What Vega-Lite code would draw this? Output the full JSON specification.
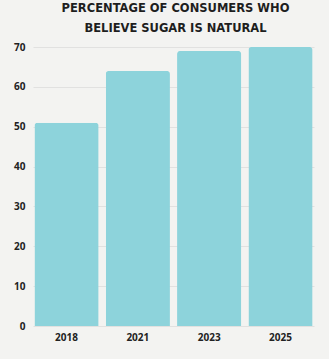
{
  "$schema": "https://vega.github.io/schema/vega-lite/v6.json",
  "autosize": {"type": "none"},
  "width": 281,
  "height": 279,
  "padding": {"left": 33, "top": 47, "right": 15, "bottom": 33},
  "background": "#f3f3f1",
  "title": {
    "text": ["PERCENTAGE OF CONSUMERS WHO", "BELIEVE SUGAR IS NATURAL"],
    "anchor": "middle",
    "frame": "group",
    "font": "DejaVu Sans",
    "fontSize": 11.5,
    "fontWeight": "bold",
    "color": "#1e1e1e",
    "lineHeight": 19.5,
    "offset": 8,
    "dx": 2
  },
  "config": {
    "view": {"stroke": null}
  },
  "data": {
    "values": [
      {"year": "2018", "pct": 51},
      {"year": "2021", "pct": 64},
      {"year": "2023", "pct": 69},
      {"year": "2025", "pct": 70}
    ]
  },
  "mark": {"type": "bar", "color": "#8dd3db", "cornerRadiusTopLeft": 3, "cornerRadiusTopRight": 3},
  "encoding": {
    "x": {
      "field": "year",
      "type": "nominal",
      "scale": {"paddingInner": 0.1, "paddingOuter": 0.02},
      "axis": {
        "title": null,
        "labelAngle": 0,
        "domain": false,
        "ticks": false,
        "labelFont": "Open Sans",
        "labelFontWeight": "bold",
        "labelFontSize": 10,
        "labelColor": "#222222",
        "labelPadding": 6
      }
    },
    "y": {
      "field": "pct",
      "type": "quantitative",
      "scale": {"domain": [0, 70], "nice": false},
      "axis": {
        "title": null,
        "values": [0, 10, 20, 30, 40, 50, 60, 70],
        "domain": false,
        "ticks": false,
        "labelFont": "Open Sans",
        "labelFontWeight": "bold",
        "labelFontSize": 10,
        "labelColor": "#222222",
        "labelPadding": 8,
        "gridColor": "#dcdcdc",
        "gridWidth": 0.8
      }
    }
  }
}
